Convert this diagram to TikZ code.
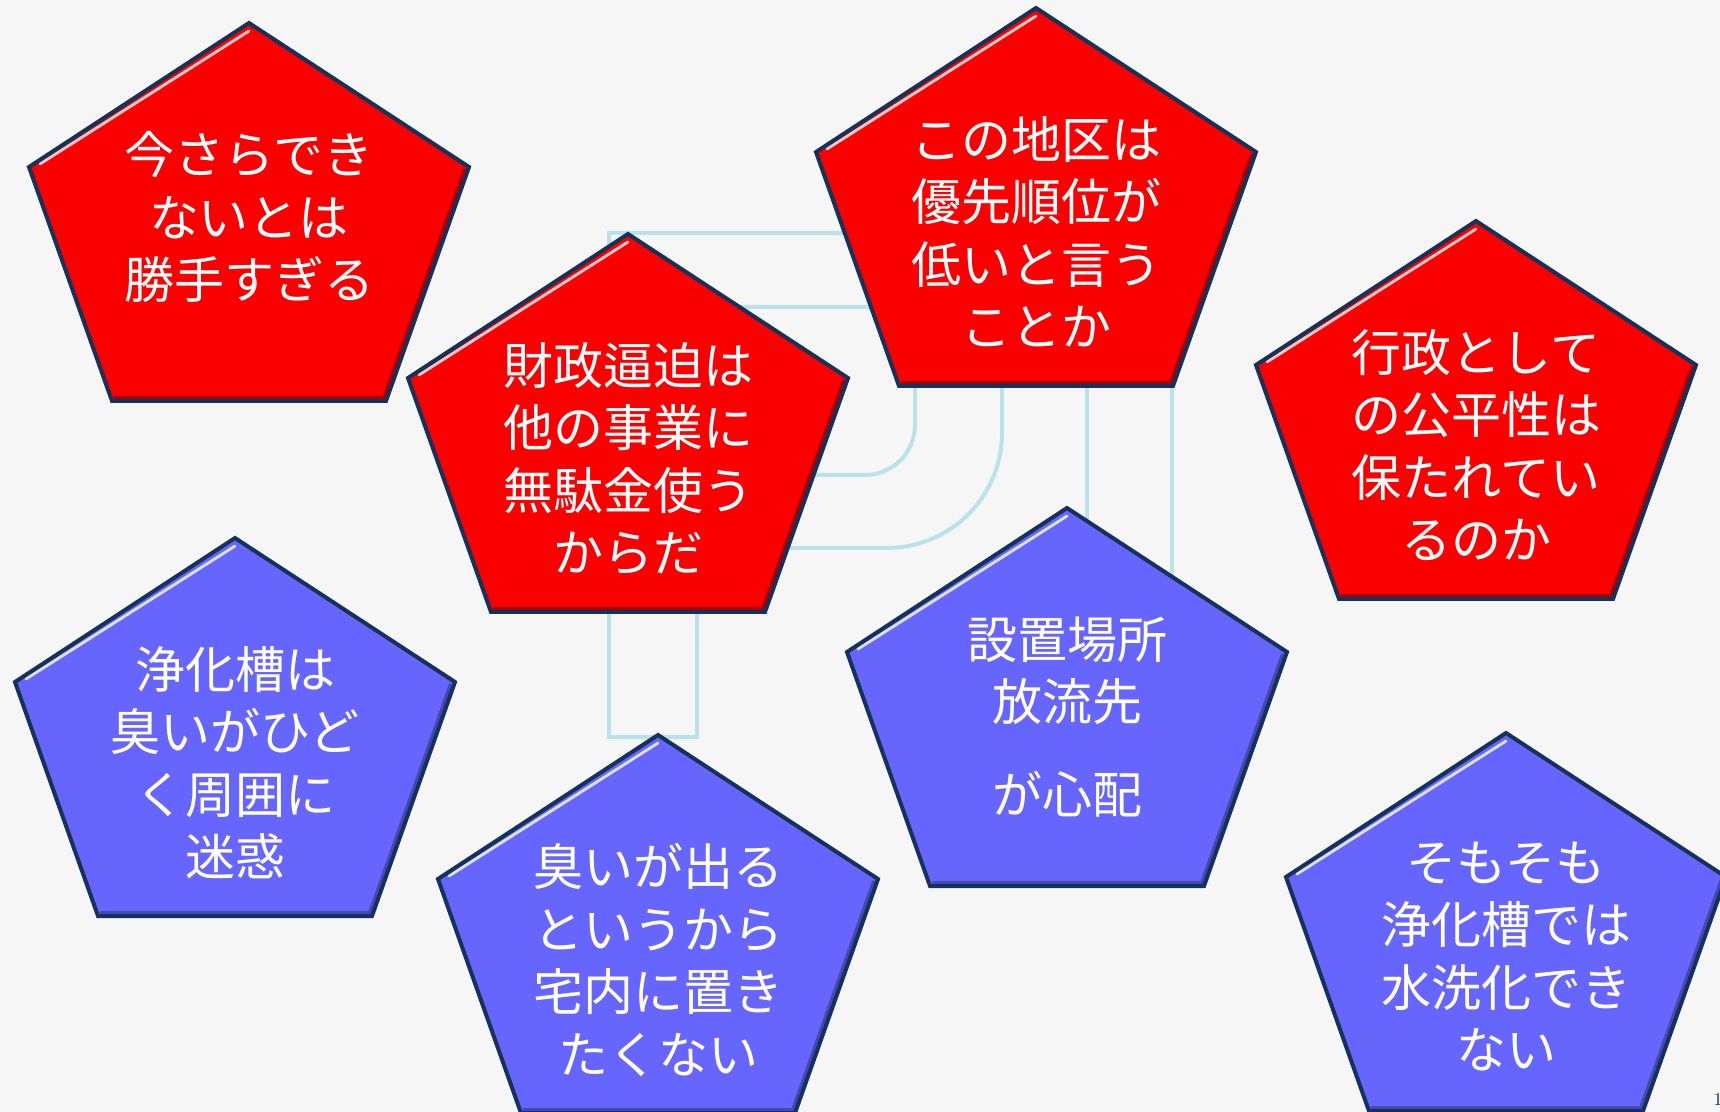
\documentclass[tikz,border=0pt]{standalone}
\usepackage{fontspec}
\newfontfamily\jpfont{Noto Sans CJK JP}
\usetikzlibrary{positioning}
\definecolor{redfill}{RGB}{250,0,0}
\definecolor{bluefill}{RGB}{102,102,255}
\definecolor{rimblue}{RGB}{20,50,90}
\definecolor{logocyan}{RGB}{185,226,234}
\definecolor{paper}{RGB}{246,246,246}
\tikzset{
  pics/pent/.style={code={
      \fill[#1] (0,0) -- (220,144) -- (137,378) -- (-137,378) -- (-220,144) -- cycle;
      \draw[black, opacity=.3, line width=2pt] (216,146) -- (135,375) -- (-135,375);
      \draw[white, opacity=.8, line width=1.4pt, line cap=round] (-209,141) -- (0,8);
      \draw[rimblue, line width=2pt] (0,0) -- (220,144) -- (137,378) -- (-137,378) -- (-220,144) -- cycle;
    }},
  pentlabel/.style={
    text=white,
    font=\jpfont\fontsize{25pt}{31.25pt}\selectfont,
    align=center,
    inner sep=0pt
  },
  logoline/.style={draw=logocyan, line width=2pt}
}
\begin{document}
\begin{tikzpicture}[x=0.5pt,y=-0.5pt]
  \useasboundingbox (0,0) rectangle (1720,1112);
  \fill[paper] (0,0) rectangle (1720,1112);
  % faint logo behind the shapes
  \draw[logoline] (697,737) -- (609,737) -- (609,233) -- (887,233)
    arc[start angle=90, end angle=0, radius=57.5pt] -- (1002,433)
    arc[start angle=0, end angle=-90, radius=57.5pt] -- (697,548) -- cycle;
  \draw[logoline] (697,307) -- (865,307)
    arc[start angle=90, end angle=0, radius=25pt] -- (915,425)
    arc[start angle=0, end angle=-90, radius=25pt] -- (697,475) -- cycle;
  \draw[logoline] (1087,300) rectangle (1172,800);
  % pentagons
  \foreach \nm/\x/\y/\col/\txt in {
      imasara/249/23/redfill/{今さらでき\\ないとは\\勝手すぎる},
      zaisei/628/234/redfill/{財政逼迫は\\他の事業に\\無駄金使う\\からだ},
      chiku/1036/8/redfill/{この地区は\\優先順位が\\低いと言う\\ことか},
      kouhei/1476/221/redfill/{行政として\\の公平性は\\保たれてい\\るのか},
      nioi/235/538/bluefill/{浄化槽は\\臭いがひど\\く周囲に\\迷惑},
      basho/1067/508/bluefill/{設置場所\\放流先\\[15pt]が心配},
      takunai/658/735/bluefill/{臭いが出る\\というから\\宅内に置き\\たくない},
      somosomo/1506/733/bluefill/{そもそも\\浄化槽では\\水洗化でき\\ない}}{
    \coordinate (\nm-top) at (\x,\y);
    \pic at (\nm-top) {pent=\col};
    \node[pentlabel, below=54pt of \nm-top] (\nm) {\txt};
  }
  \node[anchor=west, font=\small, text=rimblue, inner sep=0pt] (pagenum) at (1713,1100) {1};
\end{tikzpicture}
\end{document}
